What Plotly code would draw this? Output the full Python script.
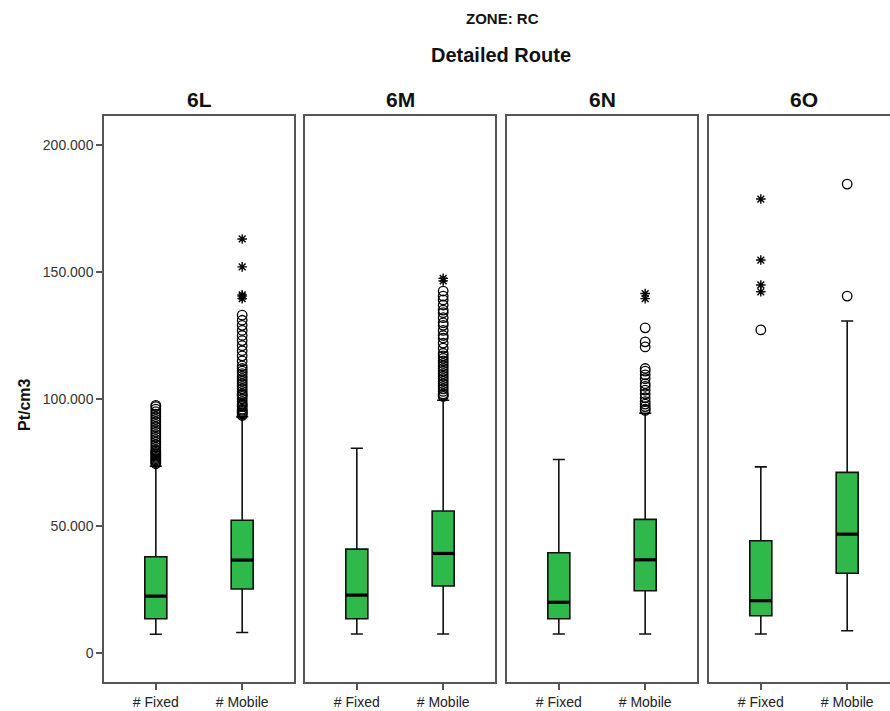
import plotly.graph_objects as go

# ---------------- data ----------------
panels = ["6L", "6M", "6N", "6O"]
categories = ["# Fixed", "# Mobile"]

# box statistics per panel: [Fixed, Mobile]
q1 = [[13500, 25200], [13500, 26400], [13500, 24500], [14700, 31400]]
median = [[22400, 36600], [22800, 39200], [20000, 36700], [20600, 46800]]
q3 = [[37900, 52300], [40900, 55900], [39500, 52600], [44200, 71100]]
lower_whisker = [[7400, 8100], [7500, 7500], [7500, 7500], [7500, 8800]]
upper_whisker = [[73500, 93000], [80600, 99500], [76200, 94400], [73300, 130700]]

# outliers (circles) per panel: [Fixed list, Mobile list]
outliers = [
    [
        [74500, 75000, 75500, 76000, 76500, 77000, 77500, 78000, 78500, 79000, 79500, 80000,
         81000, 82000, 83000, 84000, 85000, 86000, 87000, 88000, 89000, 90000, 91000, 92000,
         93000, 94000, 95000, 96000, 97000, 97500],
        [93500, 94000, 94500, 95000, 95500, 96000, 97000, 97500, 98000, 99000, 100000, 101000,
         101500, 102000, 103000, 104000, 105000, 106000, 107000, 108000, 109000, 110000, 111000,
         112000, 113000, 115000, 117000, 119000, 121000, 123000, 125000, 127000, 129000,
         131000, 133000],
    ],
    [
        [],
        [101000, 101500, 102000, 103000, 104000, 105000, 106000, 107000, 108000, 109000,
         110000, 111000, 112000, 113000, 114000, 115000, 116000, 117000, 118000, 120000,
         122000, 124000, 125000, 127000, 129000, 130000, 132000, 134000, 135000, 137000,
         139000, 140500, 142500],
    ],
    [
        [],
        [95500, 96000, 97000, 98000, 99000, 100500, 102000, 103500, 105000, 106000, 108000,
         109500, 111000, 112000, 120500, 122500, 128000],
    ],
    [
        [127200],
        [140500, 184600],
    ],
]

# extreme values (stars) per panel: [Fixed list, Mobile list]
extremes = [
    [[], [139500, 140500, 141000, 152000, 163000]],
    [[], [146500, 147500]],
    [[], [139500, 141500]],
    [[142200, 144900, 154700, 178700], []],
]

y_tickvals = [0, 50000, 100000, 150000, 200000]
y_ticktext = ["0", "50.000", "100.000", "150.000", "200.000"]

zone_title = "ZONE: RC"
group_title = "Detailed Route"
y_title = "Pt/cm3"

# ---------------- styling ----------------
W, H = 890, 711
panel_left_px = [104, 305, 507, 709]
panel_w_px = 190
plot_top_px, plot_bottom_px = 116, 682
green = "#30b94b"
frame_col = "#555555"
font_main = "Liberation Sans, Arial, sans-serif"
y_range = [-11400, 211400]
x_range = [-0.6, 1.6]
box_width = 0.255


def py(ypx):
    """pixel row -> paper y (paper spans the plot area)"""
    return (plot_bottom_px - ypx) / (plot_bottom_px - plot_top_px)


fig = go.Figure()

for i, name in enumerate(panels):
    n = i + 1
    xa = "x" if n == 1 else f"x{n}"
    ya = "y" if n == 1 else f"y{n}"
    xs = [0, 1]
    fig.add_trace(go.Box(
        x=xs, q1=q1[i], median=median[i], q3=q3[i],
        lowerfence=lower_whisker[i], upperfence=upper_whisker[i],
        width=box_width, whiskerwidth=0.55, boxpoints=False,
        fillcolor=green, line=dict(color="#111111", width=1.6),
        xaxis=xa, yaxis=ya, showlegend=False, hoverinfo="skip",
    ))
    # thick median lines
    for j in range(2):
        fig.add_trace(go.Scatter(
            x=[xs[j] - box_width / 2, xs[j] + box_width / 2],
            y=[median[i][j], median[i][j]],
            mode="lines", line=dict(color="#000000", width=3.2),
            xaxis=xa, yaxis=ya, showlegend=False, hoverinfo="skip",
        ))
    # outliers
    for j in range(2):
        vals = outliers[i][j]
        if vals:
            fig.add_trace(go.Scatter(
                x=[xs[j]] * len(vals), y=vals, mode="markers",
                marker=dict(symbol="circle-open", size=9.5, color="#000000",
                            line=dict(width=1.3, color="#000000")),
                xaxis=xa, yaxis=ya, showlegend=False, hoverinfo="skip",
            ))
        ext = extremes[i][j]
        if ext:
            fig.add_trace(go.Scatter(
                x=[xs[j]] * len(ext), y=ext, mode="markers",
                marker=dict(symbol="asterisk-open", size=8, color="#000000",
                            line=dict(width=1.4, color="#000000")),
                xaxis=xa, yaxis=ya, showlegend=False, hoverinfo="skip",
            ))

layout = dict(
    width=W, height=H,
    margin=dict(l=0, r=0, t=plot_top_px, b=H - plot_bottom_px, autoexpand=False),
    paper_bgcolor="white", plot_bgcolor="white",
    font=dict(family=font_main, color="#222222"),
)

for i, name in enumerate(panels):
    n = i + 1
    x0 = panel_left_px[i] / W
    x1 = min((panel_left_px[i] + panel_w_px) / W, 1.0)
    xr = [x_range[0], x_range[0] + (x_range[1] - x_range[0]) * (x1 * W - panel_left_px[i]) / panel_w_px]
    xkey = "xaxis" if n == 1 else f"xaxis{n}"
    ykey = "yaxis" if n == 1 else f"yaxis{n}"
    layout[xkey] = dict(
        domain=[x0, x1], range=xr, anchor="y" if n == 1 else f"y{n}",
        tickvals=[0, 1], ticktext=categories, ticks="outside", ticklen=6,
        tickwidth=1.5, tickcolor=frame_col,
        showline=True, linecolor=frame_col, linewidth=1.5, mirror=True,
        showgrid=False, zeroline=False, fixedrange=True,
        tickfont=dict(size=14, color="#222222"),
    )
    ydict = dict(
        domain=[0, 1], range=y_range, anchor="x" if n == 1 else f"x{n}",
        showline=True, linecolor=frame_col, linewidth=1.5,
        mirror=(n != 4), showgrid=False, zeroline=False, fixedrange=True,
    )
    if n == 1:
        ydict.update(tickvals=y_tickvals, ticktext=y_ticktext, ticks="outside",
                     ticklen=6, tickwidth=1.5, tickcolor=frame_col,
                     tickfont=dict(size=14, color="#333333"))
    else:
        ydict.update(showticklabels=False, ticks="")
    layout[ykey] = ydict

annotations = [
    dict(text=f"<b>{zone_title}</b>", x=503 / W, y=py(18), xref="paper", yref="paper",
         yanchor="middle", xanchor="center", showarrow=False,
         font=dict(size=15, color="#111111")),
    dict(text=f"<b>{group_title}</b>", x=501 / W, y=py(55), xref="paper", yref="paper",
         yanchor="middle", xanchor="center", showarrow=False,
         font=dict(size=20, color="#111111")),
    dict(text=f"<b>{y_title}</b>", x=24 / W, y=py(405), xref="paper", yref="paper",
         yanchor="middle", xanchor="center", showarrow=False, textangle=-90,
         font=dict(size=16, color="#111111")),
]
for i, name in enumerate(panels):
    cx = (panel_left_px[i] + panel_w_px / 2) / W
    annotations.append(dict(
        text=f"<b>{name}</b>", x=cx, y=py(99), xref="paper", yref="paper",
        yanchor="middle", xanchor="center", showarrow=False,
        font=dict(size=21, color="#111111"),
    ))
layout["annotations"] = annotations

fig.update_layout(**layout)
fig.write_html("out.html")
